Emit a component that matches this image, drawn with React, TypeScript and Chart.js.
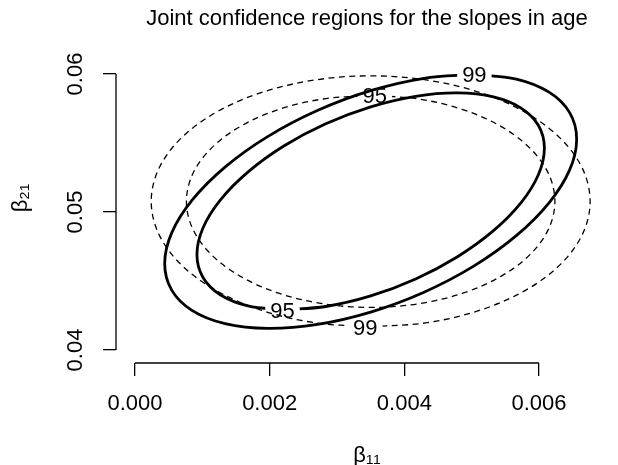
import React, { useEffect, useRef } from "react";
import { Chart, registerables } from "chart.js";

Chart.register(...registerables);

const TITLE = "Joint confidence regions for the slopes in age";
const X_LABEL = "β₁₁";
const Y_LABEL = "β₂₁";

const X_TICKS = [0, 0.002, 0.004, 0.006];
const Y_TICKS = [0.04, 0.05, 0.06];
const X_RANGE = [-0.000282, 0.007173];
const Y_RANGE = [0.03906, 0.06297];

// joint 99% region (outer solid)
const JOINT99_X = [0.005030, 0.004292, 0.003500, 0.002708, 0.001970, 0.001337, 0.000851, 0.000545, 0.000441, 0.000545, 0.000851, 0.001337, 0.001970, 0.002708, 0.003500, 0.004292, 0.005030, 0.005663, 0.006149, 0.006455, 0.006559, 0.006455, 0.006149, 0.005663, 0.005030];
const JOINT99_Y = [0.059972, 0.059686, 0.058792, 0.057352, 0.055462, 0.053254, 0.050876, 0.048491, 0.046261, 0.044339, 0.042854, 0.041910, 0.041568, 0.041854, 0.042748, 0.044188, 0.046078, 0.048286, 0.050664, 0.053049, 0.055279, 0.057201, 0.058686, 0.059630, 0.059972];

// joint 95% region (inner solid)
const JOINT95_X = [0.002210, 0.002832, 0.003500, 0.004168, 0.004790, 0.005324, 0.005734, 0.005992, 0.006080, 0.005992, 0.005734, 0.005324, 0.004790, 0.004168, 0.003500, 0.002832, 0.002210, 0.001676, 0.001266, 0.001008, 0.000920, 0.001008, 0.001266, 0.001676, 0.002210];
const JOINT95_Y = [0.042910, 0.043154, 0.043918, 0.045148, 0.046762, 0.048648, 0.050679, 0.052717, 0.054621, 0.056263, 0.057531, 0.058338, 0.058630, 0.058386, 0.057622, 0.056392, 0.054778, 0.052892, 0.050861, 0.048823, 0.046919, 0.045277, 0.044009, 0.043202, 0.042910];

// separate 99% intervals (outer dashed)
const SEP99_X = [0.003500, 0.004344, 0.005130, 0.005804, 0.006322, 0.006648, 0.006759, 0.006648, 0.006322, 0.005804, 0.005130, 0.004344, 0.003500, 0.002657, 0.001870, 0.001196, 0.000678, 0.000352, 0.000241, 0.000352, 0.000678, 0.001196, 0.001870, 0.002657, 0.003500];
const SEP99_Y = [0.041676, 0.041986, 0.042894, 0.044340, 0.046223, 0.048416, 0.050770, 0.053124, 0.055317, 0.057200, 0.058646, 0.059554, 0.059864, 0.059554, 0.058646, 0.057200, 0.055317, 0.053124, 0.050770, 0.048416, 0.046223, 0.044340, 0.042894, 0.041986, 0.041676];

// separate 95% intervals (inner dashed)
const SEP95_X = [0.003500, 0.002792, 0.002132, 0.001565, 0.001131, 0.000857, 0.000764, 0.000857, 0.001131, 0.001565, 0.002132, 0.002792, 0.003500, 0.004208, 0.004868, 0.005435, 0.005869, 0.006143, 0.006236, 0.006143, 0.005869, 0.005435, 0.004868, 0.004208, 0.003500];
const SEP95_Y = [0.058451, 0.058189, 0.057422, 0.056201, 0.054611, 0.052758, 0.050770, 0.048782, 0.046929, 0.045339, 0.044118, 0.043351, 0.043089, 0.043351, 0.044118, 0.045339, 0.046929, 0.048782, 0.050770, 0.052758, 0.054611, 0.056201, 0.057422, 0.058189, 0.058451];

// contour labels: text, position, dataset index
const LABEL_TEXT = ["99", "95", "95", "99"];
const LABEL_X = [0.00504, 0.00219, 0.00356, 0.00342];
const LABEL_Y = [0.05997, 0.04291, 0.05845, 0.041676];
const LABEL_SERIES = [0, 1, 3, 2];

const FONT = "'Liberation Sans', Arial, Helvetica, sans-serif";
const FONT_SIZE = 22;

const toPoints = (xs: number[], ys: number[]) => xs.map((x, i) => ({ x, y: ys[i] }));

const contourPlugin = {
  id: "contourLabels",
  beforeDatasetDraw(chart: any, args: any) {
    const ctx = chart.ctx;
    ctx.save();
    ctx.font = `${FONT_SIZE}px ${FONT}`;
    ctx.beginPath();
    ctx.rect(0, 0, chart.width, chart.height);
    LABEL_SERIES.forEach((s, i) => {
      if (s !== args.index) return;
      const px = chart.scales.x.getPixelForValue(LABEL_X[i]);
      const py = chart.scales.y.getPixelForValue(LABEL_Y[i]);
      const w = ctx.measureText(LABEL_TEXT[i]).width + 10;
      const h = 18;
      ctx.rect(px - w / 2, py - h / 2, w, h);
    });
    ctx.clip("evenodd");
  },
  afterDatasetDraw(chart: any) {
    chart.ctx.restore();
  },
  afterDatasetsDraw(chart: any) {
    const ctx = chart.ctx;
    ctx.save();
    ctx.font = `${FONT_SIZE}px ${FONT}`;
    ctx.fillStyle = "#000";
    ctx.textAlign = "center";
    ctx.textBaseline = "alphabetic";
    LABEL_TEXT.forEach((t, i) => {
      const px = chart.scales.x.getPixelForValue(LABEL_X[i]);
      const py = chart.scales.y.getPixelForValue(LABEL_Y[i]);
      ctx.fillText(t, px, py + FONT_SIZE * 0.36);
    });
    ctx.restore();
  },
};

const axisLinePlugin = {
  id: "rAxisLines",
  afterDraw(chart: any) {
    const { ctx, chartArea } = chart;
    const xs = chart.scales.x;
    const ys = chart.scales.y;
    ctx.save();
    ctx.strokeStyle = "#000";
    ctx.lineWidth = 1.3;
    ctx.beginPath();
    ctx.moveTo(xs.getPixelForValue(X_TICKS[0]), chartArea.bottom);
    ctx.lineTo(xs.getPixelForValue(X_TICKS[X_TICKS.length - 1]), chartArea.bottom);
    ctx.moveTo(chartArea.left, ys.getPixelForValue(Y_TICKS[0]));
    ctx.lineTo(chartArea.left, ys.getPixelForValue(Y_TICKS[Y_TICKS.length - 1]));
    ctx.stroke();
    ctx.restore();
  },
};

export default function App() {
  const canvasRef = useRef<HTMLCanvasElement | null>(null);

  useEffect(() => {
    if (!canvasRef.current) return;
    Chart.defaults.font.family = FONT;
    Chart.defaults.color = "#000";

    const solid = { borderColor: "#000", borderWidth: 2.8, borderDash: [] as number[] };
    const dashed = { borderColor: "#000", borderWidth: 1.3, borderDash: [6, 4.5] };
    const common = {
      showLine: true,
      pointRadius: 0,
      pointHoverRadius: 0,
      tension: 0.34,
      fill: false,
      borderJoinStyle: "round" as const,
    };

    const gridOpts = {
      display: true,
      drawOnChartArea: false,
      drawTicks: true,
      tickLength: 13,
      tickWidth: 1.3,
      tickColor: "#000",
      lineWidth: 1.3,
      color: "#000",
    };

    const chart = new Chart(canvasRef.current, {
      type: "scatter",
      data: {
        datasets: [
          { label: "joint 99", data: toPoints(JOINT99_X, JOINT99_Y), ...common, ...solid },
          { label: "joint 95", data: toPoints(JOINT95_X, JOINT95_Y), ...common, ...solid },
          { label: "separate 99", data: toPoints(SEP99_X, SEP99_Y), ...common, ...dashed },
          { label: "separate 95", data: toPoints(SEP95_X, SEP95_Y), ...common, ...dashed },
        ],
      },
      options: {
        animation: false,
        responsive: false,
        events: [],
        layout: { padding: 0 },
        plugins: {
          legend: { display: false },
          tooltip: { enabled: false },
          title: {
            display: true,
            text: TITLE,
            fullSize: false,
            color: "#000",
            font: { size: FONT_SIZE, weight: "normal", family: FONT, lineHeight: 1.2 },
            padding: { top: 5.5, bottom: 1.1 },
          },
        },
        scales: {
          x: {
            type: "linear",
            min: X_RANGE[0],
            max: X_RANGE[1],
            bounds: "data",
            border: { display: false },
            grid: gridOpts,
            afterBuildTicks: (scale: any) => {
              scale.ticks = X_TICKS.map((v) => ({ value: v }));
            },
            afterFit: (scale: any) => {
              scale.height = 102;
            },
            ticks: {
              autoSkip: false,
              maxRotation: 0,
              minRotation: 0,
              padding: 15,
              color: "#000",
              font: { size: FONT_SIZE, family: FONT },
              callback: (v: any) => Number(v).toFixed(3),
            },
            title: {
              display: true,
              text: X_LABEL,
              color: "#000",
              font: { size: FONT_SIZE, family: FONT, lineHeight: 0.8 },
              padding: { top: 0, bottom: 0 },
            },
          },
          y: {
            type: "linear",
            min: Y_RANGE[0],
            max: Y_RANGE[1],
            bounds: "data",
            border: { display: false },
            grid: gridOpts,
            afterBuildTicks: (scale: any) => {
              scale.ticks = Y_TICKS.map((v) => ({ value: v }));
            },
            afterFit: (scale: any) => {
              scale.width = 116;
            },
            ticks: {
              autoSkip: false,
              minRotation: 90,
              maxRotation: 90,
              crossAlign: "center",
              padding: 5.5,
              color: "#000",
              font: { size: FONT_SIZE, family: FONT },
              callback: (v: any) => Number(v).toFixed(2),
            },
            title: {
              display: true,
              text: Y_LABEL,
              color: "#000",
              font: { size: FONT_SIZE, family: FONT, lineHeight: 1.2 },
              padding: { top: 7.5, bottom: 0 },
            },
          },
        },
      },
      plugins: [contourPlugin, axisLinePlugin],
    } as any);

    return () => chart.destroy();
  }, []);

  return (
    <div style={{ position: "fixed", left: 0, top: 0, width: 618, height: 465, background: "#fff" }}>
      <canvas ref={canvasRef} width={618} height={465} style={{ width: 618, height: 465, display: "block" }} />
    </div>
  );
}
